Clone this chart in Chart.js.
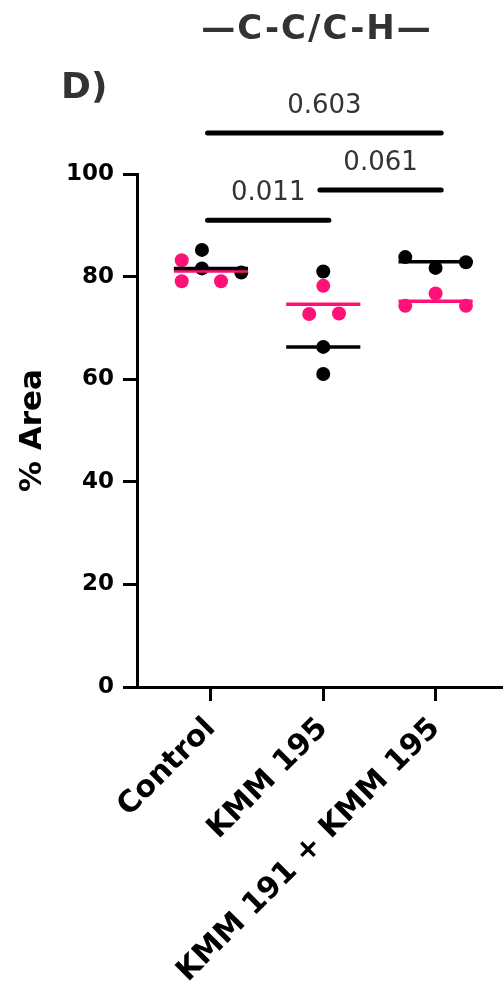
<!DOCTYPE html>
<html>
<head>
<meta charset="utf-8">
<script src="https://cdn.jsdelivr.net/npm/chart.js@4.4.1/dist/chart.umd.min.js"></script>
<style>
  html, body { margin: 0; padding: 0; background: #fff; }
  #wrap { width: 503px; height: 1000px; }
</style>
</head>
<body>
<div id="wrap"><canvas id="myChart" width="503" height="1000"></canvas></div>
<script>
const categories = ['Control', 'KMM 195', 'KMM 191 + KMM 195'];
const yTicks = [0, 20, 40, 60, 80, 100];

// individual values per group
const blackValues = [
  [85.2, 81.6, 80.8],
  [81.0, 66.3, 61.0],
  [83.8, 81.7, 82.8]
];
const pinkValues = [
  [83.2, 79.1, 79.1],
  [78.2, 72.7, 72.8],
  [74.3, 76.7, 74.3]
];

// horizontal summary lines per group
const blackLines = [81.6, 66.3, 82.9];
const pinkLines = [81.1, 74.6, 75.2];

// comparisons: group pairs, p value, height of the bracket
const pPairs = [[0, 1], [1, 2], [0, 2]];
const pLabels = ['0.011', '0.061', '0.603'];
const pHeights = [91.0, 96.9, 108.0];

const BLACK = '#000000';
const PINK = '#ff1177';
const HALF = 0.33; // half width of the summary lines

// dot spread so points don't sit on top of each other
const blackJitter = [[-0.08, -0.08, 0.27], [0, 0, 0], [-0.27, 0, 0.27]];
const pinkJitter = [[-0.26, -0.26, 0.09], [0, -0.125, 0.14], [-0.27, 0, 0.27]];

function toPoints(values, jitter) {
  const out = [];
  values.forEach((row, i) => {
    row.forEach((v, k) => out.push({ x: i + jitter[i][k], y: v }));
  });
  return out;
}

function lineSets(lines, color, order) {
  return lines.map((v, i) => ({
    type: 'line',
    data: [{ x: i - HALF, y: v }, { x: i + HALF, y: v }],
    borderColor: color,
    borderWidth: 3.5,
    pointRadius: 0,
    fill: false,
    order: order
  }));
}

const datasets = [
  {
    label: 'pink',
    data: toPoints(pinkValues, pinkJitter),
    backgroundColor: PINK,
    borderWidth: 0,
    pointRadius: 7,
    order: 4
  },
  {
    label: 'black',
    data: toPoints(blackValues, blackJitter),
    backgroundColor: BLACK,
    borderWidth: 0,
    pointRadius: 7,
    order: 3
  },
  ...lineSets(pinkLines, PINK, 2),
  ...lineSets(blackLines, BLACK, 1)
];

// title, panel letter and p value brackets
const annotations = {
  id: 'annotations',
  afterDraw(chart) {
    const { ctx, scales: { x, y } } = chart;
    ctx.save();
    ctx.fillStyle = '#333';
    ctx.textBaseline = 'alphabetic';

    ctx.font = 'bold 34px "DejaVu Sans"';
    ctx.textAlign = 'center';
    ctx.letterSpacing = '2px';
    ctx.fillText('\u2014C-C/C-H\u2014', 317, 39);
    ctx.letterSpacing = '0px';

    ctx.font = 'bold 36px "DejaVu Sans"';
    ctx.textAlign = 'left';
    ctx.fillText('D)', 61, 98);

    ctx.font = '26px "DejaVu Sans"';
    ctx.textAlign = 'center';
    ctx.strokeStyle = '#000';
    ctx.lineWidth = 5;
    ctx.lineCap = 'round';
    pPairs.forEach(([a, b], i) => {
      const x1 = x.getPixelForValue(a - 0.03);
      const x2 = x.getPixelForValue(b + 0.05);
      const yy = y.getPixelForValue(pHeights[i]);
      ctx.beginPath();
      ctx.moveTo(x1, yy);
      ctx.lineTo(x2, yy);
      ctx.stroke();
      ctx.fillText(pLabels[i], (x1 + x2) / 2, yy - 20);
    });
    ctx.restore();
  }
};

const tickFont = { family: 'DejaVu Sans', weight: 'bold', size: 23 };

new Chart(document.getElementById('myChart'), {
  type: 'scatter',
  data: { datasets: datasets },
  plugins: [annotations],
  options: {
    responsive: false,
    animation: false,
    layout: { autoPadding: false, padding: { left: 10, top: 174, right: 0, bottom: 0 } },
    plugins: {
      legend: { display: false },
      tooltip: { enabled: false }
    },
    scales: {
      x: {
        type: 'linear',
        min: -0.658,
        max: 2.6,
        afterBuildTicks: (s) => { s.ticks = categories.map((c, i) => ({ value: i })); },
        afterFit: (s) => {
          s.height = 313;
          s.paddingLeft = 0;
          s.paddingRight = 0;
        },
        grid: { drawOnChartArea: false, tickLength: 14, lineWidth: 3, tickWidth: 3, color: '#000' },
        border: { color: '#000', width: 3 },
        ticks: {
          callback: (v) => categories[v],
          minRotation: 45,
          maxRotation: 45,
          autoSkip: false,
          padding: 10,
          color: '#000',
          font: { family: 'DejaVu Sans', weight: 'bold', size: 30 }
        }
      },
      y: {
        min: 0,
        max: 100,
        afterBuildTicks: (s) => { s.ticks = yTicks.map((v) => ({ value: v })); },
        afterFit: (s) => { s.width = 127; },
        grid: { drawOnChartArea: false, tickLength: 14, lineWidth: 3, tickWidth: 3, color: '#000' },
        border: { color: '#000', width: 3 },
        ticks: { padding: 9, color: '#000', font: tickFont },
        title: {
          display: true,
          text: '% Area',
          color: '#000',
          font: { family: 'DejaVu Sans', weight: 'bold', size: 31 },
          padding: { top: 4, bottom: 0 }
        }
      }
    }
  }
});
</script>
</body>
</html>
